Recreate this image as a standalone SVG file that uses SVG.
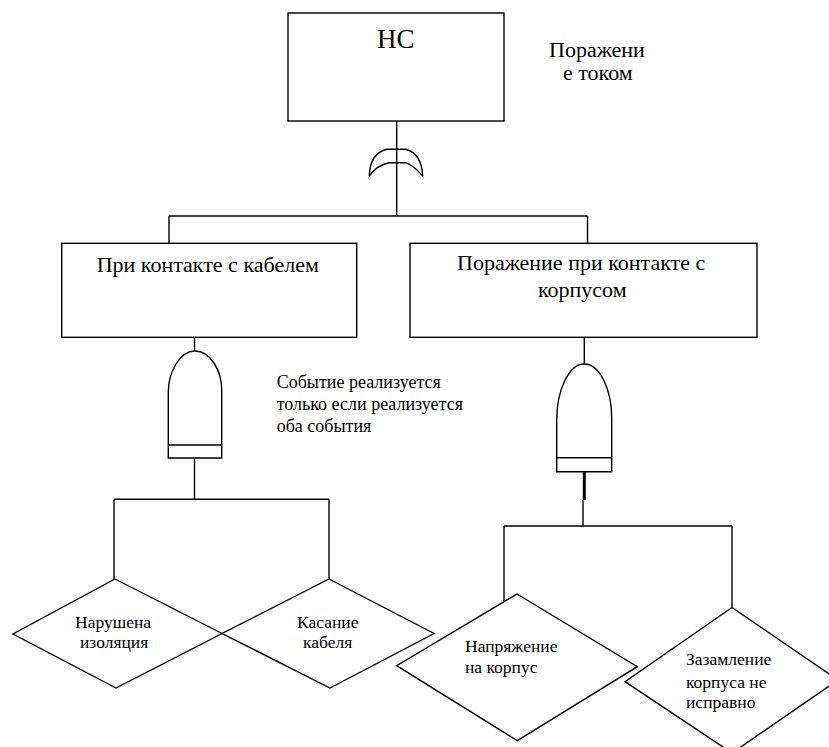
<svg xmlns="http://www.w3.org/2000/svg" width="829" height="747" viewBox="0 0 829 747">
<rect width="829" height="747" fill="#fff"/>

<g id="connectors" fill="none" stroke="#000" stroke-width="1.4">
  <path d="M396.7,121 V216"/>
  <path d="M169,216 H587.5"/>
  <path d="M169,216 V243.3"/>
  <path d="M587.5,216 V243.3"/>
  <path d="M194.5,337.3 V351"/>
  <path d="M194.5,458 V499.3"/>
  <path d="M114,499.3 H329"/>
  <path d="M114,499.3 V579"/>
  <path d="M329,499.3 V579"/>
  <path d="M584.3,337.3 V364"/>
  <path d="M584.3,471.7 V500" stroke-width="3"/>
  <path d="M583,500 V526"/>
  <path d="M504,526 H732"/>
  <path d="M504,526 V602"/>
  <path d="M732,526 V607.5"/>
</g>

<g stroke="#000" stroke-width="1.4" fill="#fff">
  <g id="top-event">
    <rect x="288" y="13" width="216" height="108"/>
  </g>
  <g id="or-gate">
    <path d="M369.3,176 Q370,153 387,149.3 L405.5,149.3 Q421.5,153 422.7,176 Q413,165 405.5,162.7 L389,162.7 Q377,165 369.3,176 Z"/>
    <path d="M396.7,149.3 V162.7" fill="none"/>
  </g>
  <g id="cable-contact">
    <rect x="61.7" y="243.3" width="295" height="94"/>
  </g>
  <g id="body-contact">
    <rect x="410" y="243.3" width="347" height="94"/>
  </g>
  <g id="and-gate-left">
    <path d="M168.3,458 L168.3,392 C168.3,372 180,351 195,351 C210,351 221.7,370 221.7,390 L221.7,458 Z"/>
    <path d="M168.3,445 H221.7" fill="none"/>
  </g>
  <g id="and-gate-right">
    <path d="M556.7,471.7 L556.7,420 C556.7,392 568,364 584.3,364 C600,364 611.7,390 611.7,418 L611.7,471.7 Z"/>
    <path d="M556.7,457.7 H611.7" fill="none"/>
  </g>
  <g id="insulation">
    <polygon points="115,579 222,633.5 116,688 13,634"/>
  </g>
  <g id="cable-touch">
    <polygon points="329,579 434,633.5 330,688 222,633.5"/>
  </g>
  <g id="body-voltage">
    <polygon points="517,594 637.3,666.7 517.3,740.7 396.7,665.7"/>
  </g>
  <g id="grounding">
    <polygon points="732,607.5 838,680 732,753 625,681.7"/>
  </g>
</g>

<g id="labels">
  <text x="377" y="48" font-size="27" font-family="'Liberation Serif'">НС</text>
  <text x="549" y="57" font-size="22" font-family="'Liberation Serif'">Поражени</text>
  <text x="563" y="80" font-size="22" font-family="'Liberation Serif'">е током</text>
  <text x="96.7" y="271.7" font-size="22" font-family="'Liberation Serif'">При контакте с кабелем</text>
  <text x="457" y="270" font-size="22" font-family="'Liberation Serif'">Поражение при контакте с</text>
  <text x="538" y="297" font-size="22" font-family="'Liberation Serif'">корпусом</text>
  <text x="276.7" y="388" font-size="18" font-family="'Liberation Serif'">Событие реализуется</text>
  <text x="276.7" y="410" font-size="18" font-family="'Liberation Serif'">только если реализуется</text>
  <text x="276.7" y="432" font-size="18" font-family="'Liberation Serif'">оба события</text>
  <text x="75" y="628" font-size="17.5" font-family="'Liberation Serif'">Нарушена</text>
  <text x="80" y="648" font-size="17.5" font-family="'Liberation Serif'">изоляция</text>
  <text x="297" y="628" font-size="17.5" font-family="'Liberation Serif'">Касание</text>
  <text x="303" y="648" font-size="17.5" font-family="'Liberation Serif'">кабеля</text>
  <text x="465" y="652" font-size="17.5" font-family="'Liberation Serif'">Напряжение</text>
  <text x="465" y="673" font-size="17.5" font-family="'Liberation Serif'">на корпус</text>
  <text x="686" y="665" font-size="17.5" font-family="'Liberation Serif'">Зазамление</text>
  <text x="686" y="688" font-size="17.5" font-family="'Liberation Serif'">корпуса не</text>
  <text x="686" y="708" font-size="17.5" font-family="'Liberation Serif'">исправно</text>
</g>
</svg>
